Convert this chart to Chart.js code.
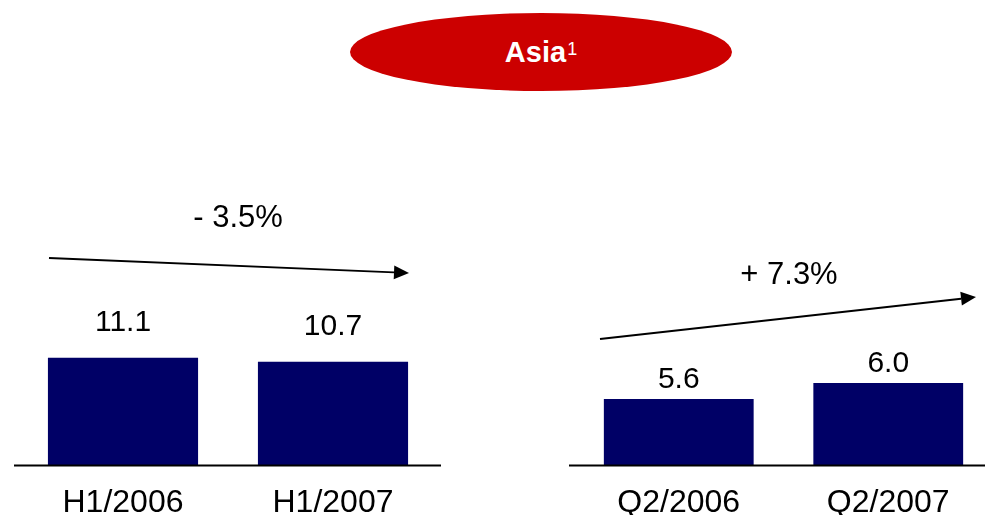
<!DOCTYPE html>
<html>
<head>
<meta charset="utf-8">
<script src="https://cdn.jsdelivr.net/npm/chart.js@4"></script>
<style>
  html, body { margin: 0; padding: 0; width: 985px; height: 515px; overflow: hidden; background: #fff; }
  body { position: relative; font-family: "Liberation Sans", Arial, sans-serif; }
  #title {
    position: absolute; left: 350px; top: 13px; width: 382px; height: 78px;
    border-radius: 50%; background: #cc0000; color: #fff;
    font-weight: bold; font-size: 29px;
    display: flex; align-items: center; justify-content: center;
  }
  #title sup { font-weight: normal; font-size: 18px; line-height: 0; position: relative; top: -3px; margin-left: 1px; }
  canvas { position: absolute; top: 0; }
</style>
</head>
<body>
<div id="title">Asia<sup>1</sup></div>
<canvas id="halfYear" width="460" height="540" style="left:0"></canvas>
<canvas id="quarter" width="510" height="540" style="left:500px"></canvas>
<script>
const halfYearLabels = ['H1/2006', 'H1/2007'];
const halfYearValues = [11.1, 10.7];
const halfYearChange = '- 3.5%';

const quarterLabels = ['Q2/2006', 'Q2/2007'];
const quarterValues = [5.6, 6.0];
const quarterChange = '+ 7.3%';

const FONT = '"Liberation Sans", Arial, sans-serif';
const BAR_COLOR = '#000066';

// values above the bars, baseline, change arrow with its label
const decorations = {
  id: 'decorations',
  afterDatasetsDraw(chart, args, opts) {
    const ctx = chart.ctx;
    const area = chart.chartArea;
    const meta = chart.getDatasetMeta(0);
    const values = chart.data.datasets[0].data;

    ctx.save();
    ctx.fillStyle = '#000';
    ctx.font = '30px ' + FONT;
    ctx.textAlign = 'center';
    ctx.textBaseline = 'middle';
    meta.data.forEach((bar, i) => {
      ctx.fillText(values[i].toFixed(1), bar.x, bar.y - opts.labelOffset);
    });

    // baseline
    ctx.strokeStyle = '#000';
    ctx.lineWidth = 2;
    ctx.beginPath();
    ctx.moveTo(area.left - opts.lineLeft, area.bottom);
    ctx.lineTo(area.right + opts.lineRight, area.bottom);
    ctx.stroke();

    // arrow
    const [x1, y1] = opts.arrow.from;
    const [x2, y2] = opts.arrow.to;
    const ang = Math.atan2(y2 - y1, x2 - x1);
    const head = 15, half = 7;
    const bx = x2 - head * Math.cos(ang), by = y2 - head * Math.sin(ang);
    ctx.lineWidth = 2;
    ctx.beginPath();
    ctx.moveTo(x1, y1);
    ctx.lineTo(bx, by);
    ctx.stroke();
    ctx.beginPath();
    ctx.moveTo(x2, y2);
    ctx.lineTo(bx - half * Math.sin(ang), by + half * Math.cos(ang));
    ctx.lineTo(bx + half * Math.sin(ang), by - half * Math.cos(ang));
    ctx.closePath();
    ctx.fill();

    ctx.font = '31px ' + FONT;
    ctx.fillText(opts.change.text, opts.change.x, opts.change.y);
    ctx.restore();
  }
};

function makeChart(id, labels, values, yMin, yMax, padLeft, padRight, deco) {
  return new Chart(document.getElementById(id), {
    type: 'bar',
    data: {
      labels: labels,
      datasets: [{
        data: values,
        backgroundColor: BAR_COLOR,
        borderWidth: 0,
        categoryPercentage: 1,
        barPercentage: 0.715
      }]
    },
    options: {
      responsive: false,
      animation: false,
      layout: { padding: { top: 264, bottom: 0, left: padLeft, right: padRight } },
      plugins: {
        legend: { display: false },
        tooltip: { enabled: false },
        decorations: deco
      },
      scales: {
        x: {
          grid: { display: false, drawTicks: false },
          border: { display: false },
          ticks: { color: '#000', padding: 18, font: { family: FONT, size: 32 } }
        },
        y: {
          display: false,
          min: yMin,
          max: yMax
        }
      }
    },
    plugins: [decorations]
  });
}

makeChart('halfYear', halfYearLabels, halfYearValues, 0, 20.75, 18, 22, {
  labelOffset: 35, lineLeft: 4, lineRight: 3,
  arrow: { from: [49, 258], to: [409, 273] },
  change: { text: halfYearChange, x: 238, y: 218 }
});

makeChart('quarter', quarterLabels, quarterValues, 3.95, 8.95, 74, 17, {
  labelOffset: 19, lineLeft: 5, lineRight: 0,
  arrow: { from: [100, 339], to: [476, 297] },
  change: { text: quarterChange, x: 289, y: 275 }
});
</script>
</body>
</html>
